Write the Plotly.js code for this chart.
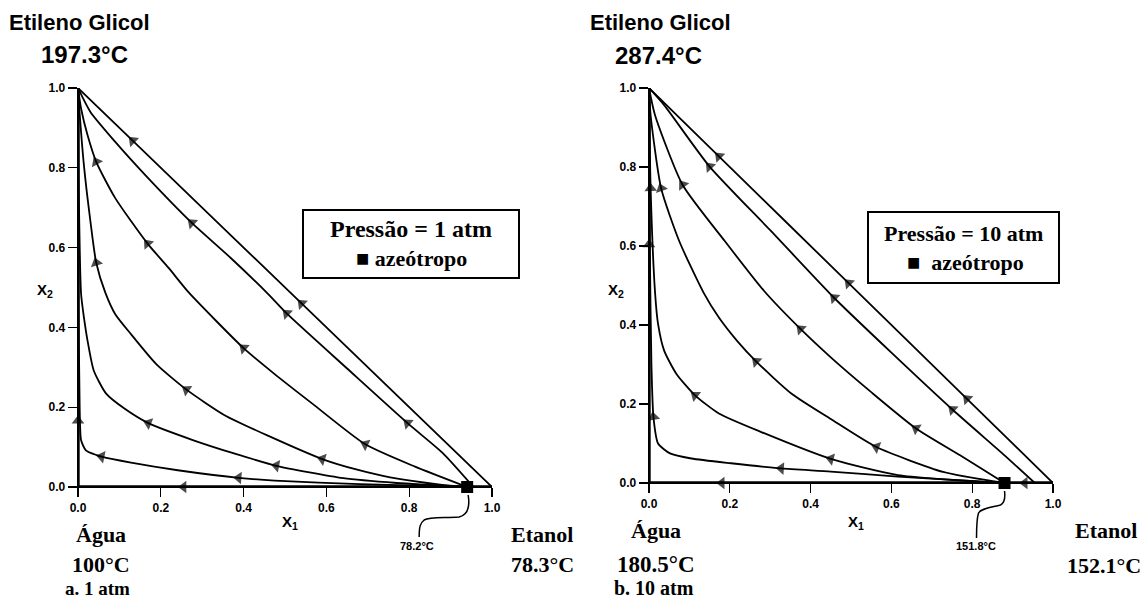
<!DOCTYPE html>
<html>
<head>
<meta charset="utf-8">
<script src="https://cdn.plot.ly/plotly-3.0.1.min.js"></script>
<style>html,body{margin:0;padding:0;background:#fff;}#chart{width:1146px;height:601px;}</style>
</head>
<body>
<div id="chart"></div>
<script>
// ---------- DATA (mole fractions: x1 = etanol, x2 = etileno glicol) ----------
const tickVals = [0, 0.2, 0.4, 0.6, 0.8, 1.0];
const tickText = ["0.0", "0.2", "0.4", "0.6", "0.8", "1.0"];

// (a) 1 atm — curves ordered from the glycol vertex towards the azeotrope
const a_hyp_x = [0, 0.132, 0.54, 1];
const a_hyp_y = [1, 0.868, 0.46, 0];
const a_hyp_arrows = [1, 2];
const a_c1_x = [0, 0.03, 0.09, 0.166, 0.275, 0.369, 0.46, 0.504, 0.65, 0.796, 0.88, 0.955];
const a_c1_y = [1, 0.94, 0.865, 0.778, 0.662, 0.574, 0.483, 0.435, 0.297, 0.16, 0.086, 0.0];
const a_c1_arrows = [4, 7, 9];
const a_c2_x = [0, 0.0075, 0.023, 0.044, 0.09, 0.168, 0.219, 0.268, 0.40, 0.475, 0.566, 0.694, 0.814, 0.94];
const a_c2_y = [1, 0.948, 0.882, 0.815, 0.724, 0.61, 0.549, 0.487, 0.348, 0.283, 0.209, 0.107, 0.051, 0];
const a_c2_arrows = [3, 5, 8, 11];
const a_c3_x = [0, 0.002, 0.015, 0.03, 0.044, 0.066, 0.09, 0.128, 0.189, 0.262, 0.354, 0.46, 0.59, 0.679, 0.754, 0.875, 0.94];
const a_c3_y = [1, 0.965, 0.799, 0.666, 0.562, 0.487, 0.433, 0.383, 0.308, 0.244, 0.18, 0.128, 0.07, 0.042, 0.024, 0.006, 0];
const a_c3_arrows = [4, 9, 12];
const a_c4_x = [0, 0.0015, 0.0075, 0.015, 0.023, 0.038, 0.068, 0.113, 0.17, 0.279, 0.377, 0.479, 0.641, 0.77, 0.94];
const a_c4_y = [1, 0.766, 0.483, 0.42, 0.367, 0.292, 0.234, 0.196, 0.16, 0.117, 0.084, 0.053, 0.022, 0.01, 0];
const a_c4_arrows = [8, 11];
const a_c5_x = [0, 0.001, 0.004, 0.0075, 0.019, 0.045, 0.057, 0.128, 0.241, 0.388, 0.475, 0.68, 0.94];
const a_c5_y = [1, 0.5, 0.2, 0.117, 0.092, 0.08, 0.076, 0.061, 0.042, 0.023, 0.016, 0.007, 0];
const a_c5_arrows = [6, 9];
const a_left_x = [0, 0, 0];
const a_left_y = [1, 0.166, 0];
const a_left_arrows = [1];
const a_base_x = [0, 0.255, 0.94, 1];
const a_base_y = [0, 0, 0, 0];
const a_base_arrows = [1];
const a_azeo_x = [0.94];
const a_azeo_y = [0];

// (b) 10 atm
const b_hyp_x = [0, 0.173, 0.494, 0.787, 1];
const b_hyp_y = [1, 0.827, 0.506, 0.213, 0];
const b_hyp_arrows = [1, 2, 3];
const b_c1_x = [0, 0.038, 0.15, 0.30, 0.458, 0.60, 0.751, 0.88, 0.955];
const b_c1_y = [1, 0.956, 0.801, 0.64, 0.469, 0.33, 0.186, 0.07, 0];
const b_c1_arrows = [2, 4, 6];
const b_c2_x = [0, 0.015, 0.083, 0.188, 0.285, 0.375, 0.45, 0.55, 0.661, 0.77, 0.88];
const b_c2_y = [1, 0.931, 0.755, 0.612, 0.486, 0.39, 0.318, 0.23, 0.138, 0.07, 0];
const b_c2_arrows = [2, 5, 8];
const b_c3_x = [0, 0.004, 0.03, 0.075, 0.135, 0.173, 0.218, 0.265, 0.353, 0.45, 0.563, 0.728, 0.88];
const b_c3_y = [1, 0.931, 0.746, 0.612, 0.482, 0.419, 0.36, 0.308, 0.226, 0.162, 0.091, 0.028, 0];
const b_c3_arrows = [2, 7, 10];
const b_c4_x = [0, 0.004, 0.015, 0.0225, 0.0375, 0.068, 0.114, 0.173, 0.278, 0.45, 0.616, 0.88];
const b_c4_y = [1, 0.746, 0.482, 0.402, 0.335, 0.276, 0.222, 0.176, 0.129, 0.061, 0.02, 0];
const b_c4_arrows = [1, 6, 9];
const b_c5_x = [0, 0.002, 0.006, 0.011, 0.0225, 0.052, 0.105, 0.203, 0.327, 0.45, 0.616, 0.88];
const b_c5_y = [1, 0.6, 0.3, 0.167, 0.1, 0.075, 0.062, 0.05, 0.037, 0.029, 0.016, 0];
const b_c5_arrows = [3, 8];
const b_left_x = [0, 0, 0];
const b_left_y = [1, 0.604, 0];
const b_left_arrows = [1];
const b_base_x = [0, 0.18, 0.88, 0.93, 1];
const b_base_y = [0, 0, 0, 0, 0];
const b_base_arrows = [1, 3];
const b_azeo_x = [0.88];
const b_azeo_y = [0];

// ---------- LAYOUT GEOMETRY ----------
const W = 1146, H = 601;
const PX = X => X / W;
const PY = Y => 1 - Y / H;
const domA = {x: [PX(78), PX(492)], y: [PY(487), PY(88)]};
const domB = {x: [PX(649), PX(1053)], y: [PY(483), PY(88)]};

const traces = [];
function addCurve(xs, ys, arrows, xa, ya, width) {
  traces.push({x: xs, y: ys, xaxis: xa, yaxis: ya, type: 'scatter', mode: 'lines',
    line: {color: '#000', width: width, shape: 'spline', smoothing: 0.6}, hoverinfo: 'skip', showlegend: false});
  const ax = [], ay = [], sz = [];
  arrows.forEach(i => { ax.push(xs[i + 1], xs[i]); ay.push(ys[i + 1], ys[i]); sz.push(0, 11); });
  traces.push({x: ax, y: ay, xaxis: xa, yaxis: ya, type: 'scatter', mode: 'markers', cliponaxis: false,
    marker: {symbol: 'triangle-up', size: sz, color: '#000', angleref: 'previous', angle: 0, line: {width: 0}},
    hoverinfo: 'skip', showlegend: false});
}
addCurve(a_left_x, a_left_y, a_left_arrows, 'x', 'y', 3.4);
addCurve(a_base_x, a_base_y, a_base_arrows, 'x', 'y', 3.4);
addCurve(a_hyp_x, a_hyp_y, a_hyp_arrows, 'x', 'y', 1.8);
addCurve(a_c1_x, a_c1_y, a_c1_arrows, 'x', 'y', 1.8);
addCurve(a_c2_x, a_c2_y, a_c2_arrows, 'x', 'y', 1.8);
addCurve(a_c3_x, a_c3_y, a_c3_arrows, 'x', 'y', 1.8);
addCurve(a_c4_x, a_c4_y, a_c4_arrows, 'x', 'y', 1.8);
addCurve(a_c5_x, a_c5_y, a_c5_arrows, 'x', 'y', 1.8);
addCurve(b_left_x, b_left_y, b_left_arrows, 'x2', 'y2', 3.4);
addCurve(b_base_x, b_base_y, b_base_arrows, 'x2', 'y2', 3.4);
addCurve(b_hyp_x, b_hyp_y, b_hyp_arrows, 'x2', 'y2', 1.8);
addCurve(b_c1_x, b_c1_y, b_c1_arrows, 'x2', 'y2', 1.8);
addCurve(b_c2_x, b_c2_y, b_c2_arrows, 'x2', 'y2', 1.8);
addCurve(b_c3_x, b_c3_y, b_c3_arrows, 'x2', 'y2', 1.8);
addCurve(b_c4_x, b_c4_y, b_c4_arrows, 'x2', 'y2', 1.8);
addCurve(b_c5_x, b_c5_y, b_c5_arrows, 'x2', 'y2', 1.8);
traces.push({x: a_azeo_x, y: a_azeo_y, xaxis: 'x', yaxis: 'y', type: 'scatter', mode: 'markers', cliponaxis: false,
  marker: {symbol: 'square', size: 12, color: '#000'}, hoverinfo: 'skip', showlegend: false});
traces.push({x: b_azeo_x, y: b_azeo_y, xaxis: 'x2', yaxis: 'y2', type: 'scatter', mode: 'markers', cliponaxis: false,
  marker: {symbol: 'square', size: 12, color: '#000'}, hoverinfo: 'skip', showlegend: false});

const tickFont = {family: 'Liberation Sans, Arial, sans-serif', size: 12, color: '#000', weight: 'bold'};
function axis(dom, anchor) {
  return {domain: dom, anchor: anchor, range: [0, 1], tickvals: tickVals, ticktext: tickText,
    ticks: 'outside', ticklen: 9, tickwidth: 1.3, tickcolor: '#000', showline: true, linecolor: '#000', linewidth: 1.3,
    showgrid: false, zeroline: false, tickfont: tickFont, fixedrange: true};
}

const SANS = 'Liberation Sans, Arial, sans-serif';
const SERIF = 'Liberation Serif, Times New Roman, serif';
function txt(text, X, Y, family, size) {
  return {text: text, xref: 'paper', yref: 'paper', x: PX(X), y: PY(Y), xanchor: 'center', yanchor: 'middle',
    showarrow: false, font: {family: family, size: size, color: '#000', weight: 'bold'}};
}
const annotations = [
  txt('Etileno Glicol', 79, 23, SANS, 22), txt('197.3°C', 84, 54, SANS, 24),
  txt('X<sub>2</sub>', 45, 290, SANS, 15), txt('X<sub>1</sub>', 290, 522, SANS, 15),
  txt('Água', 101, 534, SERIF, 22), txt('100°C', 101, 564, SERIF, 22), txt('a. 1 atm', 97, 588, SERIF, 19),
  txt('Etanol', 542, 534, SERIF, 22), txt('78.3°C', 542, 564, SERIF, 22),
  txt('78.2°C', 417, 546, SANS, 11),
  txt('Pressão = 1 atm', 411, 229, SERIF, 24), txt('■ azeótropo', 411, 258, SERIF, 22),
  txt('Etileno Glicol', 660, 23, SANS, 22), txt('287.4°C', 658, 55, SANS, 24),
  txt('X<sub>2</sub>', 616, 290, SANS, 15), txt('X<sub>1</sub>', 856, 522, SANS, 15),
  txt('Água', 656, 530, SERIF, 22), txt('180.5°C', 656, 564, SERIF, 23), txt('b. 10 atm', 654, 588, SERIF, 20),
  txt('Etanol', 1106, 530, SERIF, 22), txt('152.1°C', 1104, 565, SERIF, 22),
  txt('151.8°C', 976, 546, SANS, 11),
  txt('Pressão = 10 atm', 963, 233, SERIF, 22), txt('■  azeótropo', 966, 262, SERIF, 22)
];

// leader curve from the azeotrope label to the azeotrope (pixel offsets relative to the azeotrope point)
function leader(dom, ax, offs) {
  const X0 = dom.x[0] * W + ax * (dom.x[1] - dom.x[0]) * W;
  const Y0 = (1 - dom.y[0]) * H;
  const p = offs.map(o => [PX(X0 + o[0]), PY(Y0 + o[1])]);
  return {type: 'path', xref: 'paper', yref: 'paper', line: {color: '#000', width: 1.5},
    path: `M${p[0][0]},${p[0][1]} C${p[1][0]},${p[1][1]} ${p[2][0]},${p[2][1]} ${p[3][0]},${p[3][1]} C${p[4][0]},${p[4][1]} ${p[5][0]},${p[5][1]} ${p[6][0]},${p[6][1]} C${p[7][0]},${p[7][1]} ${p[8][0]},${p[8][1]} ${p[9][0]},${p[9][1]}`};
}
const shapes = [
  {type: 'rect', xref: 'paper', yref: 'paper', x0: PX(303), x1: PX(519), y0: PY(278), y1: PY(210), line: {color: '#000', width: 2}},
  {type: 'rect', xref: 'paper', yref: 'paper', x0: PX(868), x1: PX(1059), y0: PY(283), y1: PY(212), line: {color: '#000', width: 2}},
  leader(domA, a_azeo_x[0], [[1, 8], [3, 20], [0, 28], [-8, 30], [-25, 31], [-38, 30], [-43, 33], [-47, 36], [-48, 40], [-48, 50]]),
  leader(domB, b_azeo_x[0], [[0, 8], [1, 16], [0, 20], [-4, 22], [-16, 25], [-24, 26], [-26, 30], [-28, 36], [-28, 42], [-28, 55]])
];

const layout = {
  width: W, height: H, autosize: false, margin: {l: 0, r: 0, t: 0, b: 0},
  paper_bgcolor: '#fff', plot_bgcolor: 'rgba(0,0,0,0)', showlegend: false,
  xaxis: axis(domA.x, 'y'), yaxis: axis(domA.y, 'x'),
  xaxis2: axis(domB.x, 'y2'), yaxis2: axis(domB.y, 'x2'),
  annotations: annotations, shapes: shapes
};
Plotly.newPlot('chart', traces, layout, {staticPlot: true, displayModeBar: false});
</script>
</body>
</html>
